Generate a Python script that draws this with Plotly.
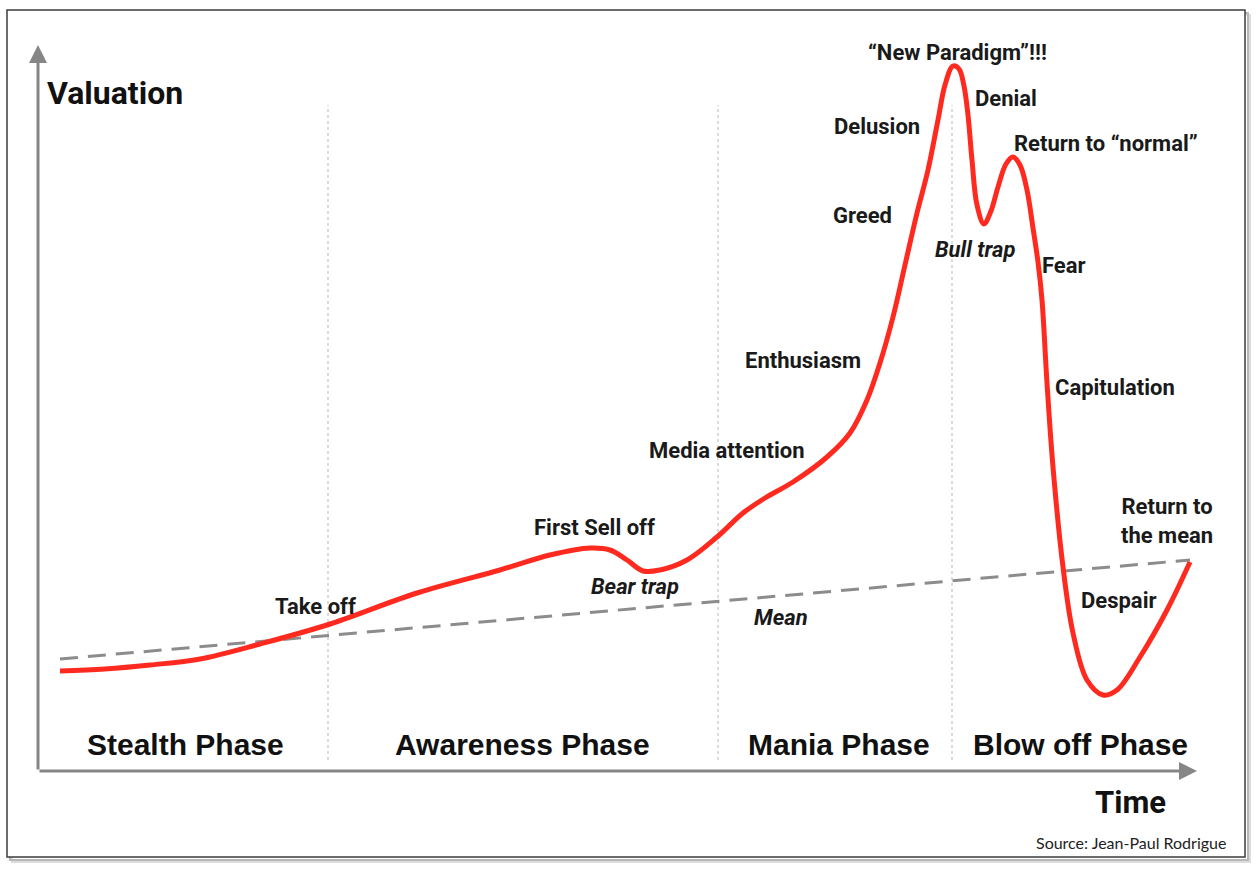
import plotly.graph_objects as go

# time / valuation (valuation = height above the time axis)
bubble_time = [60, 105, 150, 200, 260, 330, 417, 500, 550, 590, 610, 627, 643, 660,
               687, 717, 743, 765, 793, 827, 850, 867, 880, 893, 905, 917, 928, 938,
               945, 953, 959, 964, 968, 972, 977, 984, 991, 998, 1006, 1013, 1020,
               1027, 1033, 1038, 1042, 1047, 1053, 1063, 1073, 1087, 1103, 1117, 1140,
               1167, 1190]
bubble_value = [100, 102, 106, 112, 127, 147, 178, 201, 216, 223, 221, 211, 200, 201,
                211, 234, 258, 273, 289, 314, 338, 371, 408, 454, 506, 558, 601, 651,
                686, 705, 702, 685, 656, 611, 566, 547, 560, 584, 607, 614, 606,
                581, 543, 509, 471, 388, 304, 204, 138, 91, 76, 81, 114,
                161, 209]

mean_time = [60, 1190]
mean_value = [112, 211]

phase_names = ["Stealth Phase", "Awareness Phase", "Mania Phase", "Blow off Phase"]
phase_centers = [185, 522, 839, 1080]
phase_bounds = [328, 718, 952]

# label, time, valuation, italic
stage_labels = [
    ("Take off", 315, 165, False),
    ("First Sell off", 594, 244, False),
    ("Bear trap", 635, 185, True),
    ("Mean", 781, 154, True),
    ("Media attention", 726, 321, False),
    ("Enthusiasm", 803, 411, False),
    ("Greed", 862, 556, False),
    ("Delusion", 877, 645, False),
    ("“New Paradigm”!!!", 957, 719, False),
    ("Denial", 1006, 673, False),
    ("Return to “normal”", 1106, 628, False),
    ("Bull trap", 975, 522, True),
    ("Fear", 1064, 506, False),
    ("Capitulation", 1115, 384, False),
    ("Return to<br>the mean", 1167, 250, False),
    ("Despair", 1119, 171, False),
]

AXIS_GREY = "#868686"
LABEL_FONT = "Roboto, Arial, sans-serif"

fig = go.Figure()

fig.add_trace(go.Scatter(
    x=mean_time, y=mean_value, mode="lines",
    line=dict(color="#8c8c8c", width=3, dash="18px,10px"),
    hoverinfo="skip", showlegend=False,
))
fig.add_trace(go.Scatter(
    x=bubble_time, y=bubble_value, mode="lines",
    line=dict(color="#ff2a1f", width=5, shape="spline", smoothing=1.0),
    showlegend=False,
))

shapes = []
# frame with a soft shadow
for off, col in [(5, "#dcdcdc"), (3, "#b8b8b8")]:
    shapes.append(dict(type="rect", xref="paper", yref="paper",
                       x0=(7 + off) / 1257, x1=(1245 + off) / 1257,
                       y0=1 - (857 + off) / 871, y1=1 - (10 + off) / 871,
                       line=dict(color=col, width=2), layer="below"))
shapes.append(dict(type="rect", xref="paper", yref="paper",
                   x0=7 / 1257, x1=1245 / 1257, y0=1 - 857 / 871, y1=1 - 10 / 871,
                   line=dict(color="#3c3c3c", width=1.5), fillcolor="white",
                   layer="below"))
for b in phase_bounds:
    shapes.append(dict(type="line", x0=b, x1=b, y0=11, y1=666,
                       line=dict(color="#cfcfcf", width=1.5, dash="dot"),
                       layer="below"))
fig.update_layout(shapes=shapes)

annotations = []
# axes drawn as arrows
annotations.append(dict(x=38, y=726, ax=38, ay=0, xref="x", yref="y",
                        axref="x", ayref="y", text="", showarrow=True,
                        arrowhead=2, arrowsize=1.2, arrowwidth=3,
                        arrowcolor=AXIS_GREY))
annotations.append(dict(x=1197, y=0, ax=38, ay=0, xref="x", yref="y",
                        axref="x", ayref="y", text="", showarrow=True,
                        arrowhead=2, arrowsize=1.2, arrowwidth=3,
                        arrowcolor=AXIS_GREY))

annotations.append(dict(x=45, y=678, xref="x", yref="y", text="<b>Valuation</b>",
                        showarrow=False, xanchor="left",
                        font=dict(family=LABEL_FONT, size=32, color="#111")))
annotations.append(dict(x=1168, y=-31, xref="x", yref="y", text="<b>Time</b>",
                        showarrow=False, xanchor="right",
                        font=dict(family=LABEL_FONT, size=31, color="#111")))
annotations.append(dict(x=1228, y=-71, xref="x", yref="y",
                        text="Source: Jean-Paul Rodrigue", showarrow=False,
                        xanchor="right",
                        font=dict(family="Lato, Open Sans, sans-serif", size=16,
                                  color="#222")))

for name, cx in zip(phase_names, phase_centers):
    annotations.append(dict(x=cx, y=27, xref="x", yref="y", text=f"<b>{name}</b>",
                            showarrow=False,
                            font=dict(family="Liberation Sans, Arial, sans-serif",
                                      size=30, color="#111")))

for text, tx, vy, ital in stage_labels:
    t = f"<b>{text}</b>"
    if ital:
        t = f"<i>{t}</i>"
    annotations.append(dict(x=tx, y=vy, xref="x", yref="y", text=t,
                            showarrow=False,
                            font=dict(family=LABEL_FONT, size=22, color="#1a1a1a")))

fig.update_layout(
    annotations=annotations,
    width=1257, height=871,
    margin=dict(l=0, r=0, t=0, b=0),
    paper_bgcolor="white", plot_bgcolor="rgba(0,0,0,0)",
    xaxis=dict(range=[0, 1257], visible=False, fixedrange=True),
    yaxis=dict(range=[-100, 771], visible=False, fixedrange=True),
)

# drop the browser's default body margin so the figure sits at the page corner
fig.write_html("out.html",
               config={"displayModeBar": False},
               post_script="document.body.style.margin='0';"
                           "document.body.style.overflow='hidden';")
